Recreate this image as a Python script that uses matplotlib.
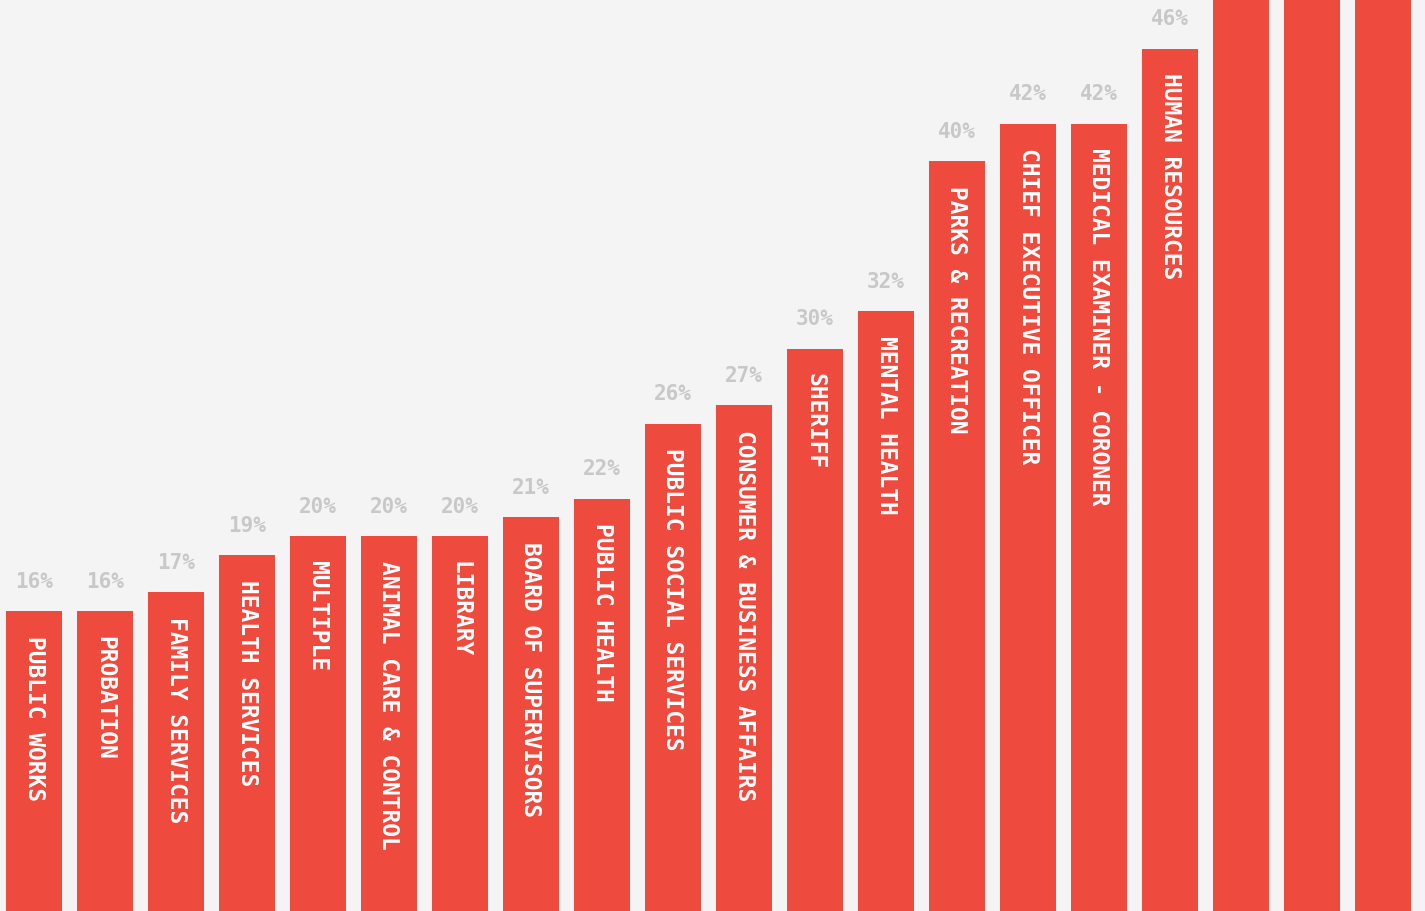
import matplotlib.pyplot as plt

departments = ['PUBLIC WORKS', 'PROBATION', 'FAMILY SERVICES', 'HEALTH SERVICES',
               'MULTIPLE', 'ANIMAL CARE & CONTROL', 'LIBRARY', 'BOARD OF SUPERVISORS',
               'PUBLIC HEALTH', 'PUBLIC SOCIAL SERVICES', 'CONSUMER & BUSINESS AFFAIRS',
               'SHERIFF', 'MENTAL HEALTH', 'PARKS & RECREATION', 'CHIEF EXECUTIVE OFFICER',
               'MEDICAL EXAMINER - CORONER', 'HUMAN RESOURCES', '', '', '']
pct = [16, 16, 17, 19, 20, 20, 20, 21, 22, 26, 27, 30, 32, 40, 42, 42, 46, 70, 75, 80]

bar_color = '#ee4b3e'
bg = '#f4f4f4'
val_color = '#c8c8c8'
ytop = 48.64

fig = plt.figure(figsize=(14.25, 9.12), dpi=100, facecolor=bg)
ax = fig.add_axes([0, 0, 1, 1])
ax.set_facecolor(bg)

x = list(range(len(pct)))
ax.bar(x, pct, width=56 / 71, color=bar_color)

px = 912 / ytop  # pixels per percent point
for i, (name, v) in enumerate(zip(departments, pct)):
    # bars taller than the view keep their labels off-screen
    if v > ytop:
        continue
    ax.text(i, v + 20 / px, f'{v}%', ha='center', va='bottom', color=val_color,
            fontsize=15, fontweight='bold', family='DejaVu Sans Mono')
    if name:
        ax.text(i, v - 24 / px, name, ha='center', va='top', rotation=-90,
                color='white', fontsize=16.5, fontweight='bold',
                family='DejaVu Sans Mono')

ax.set_xlim(-34 / 71, (1425 - 34) / 71)
ax.set_ylim(0, ytop)
ax.axis('off')

fig.savefig('out.png', dpi=100, facecolor=bg)
